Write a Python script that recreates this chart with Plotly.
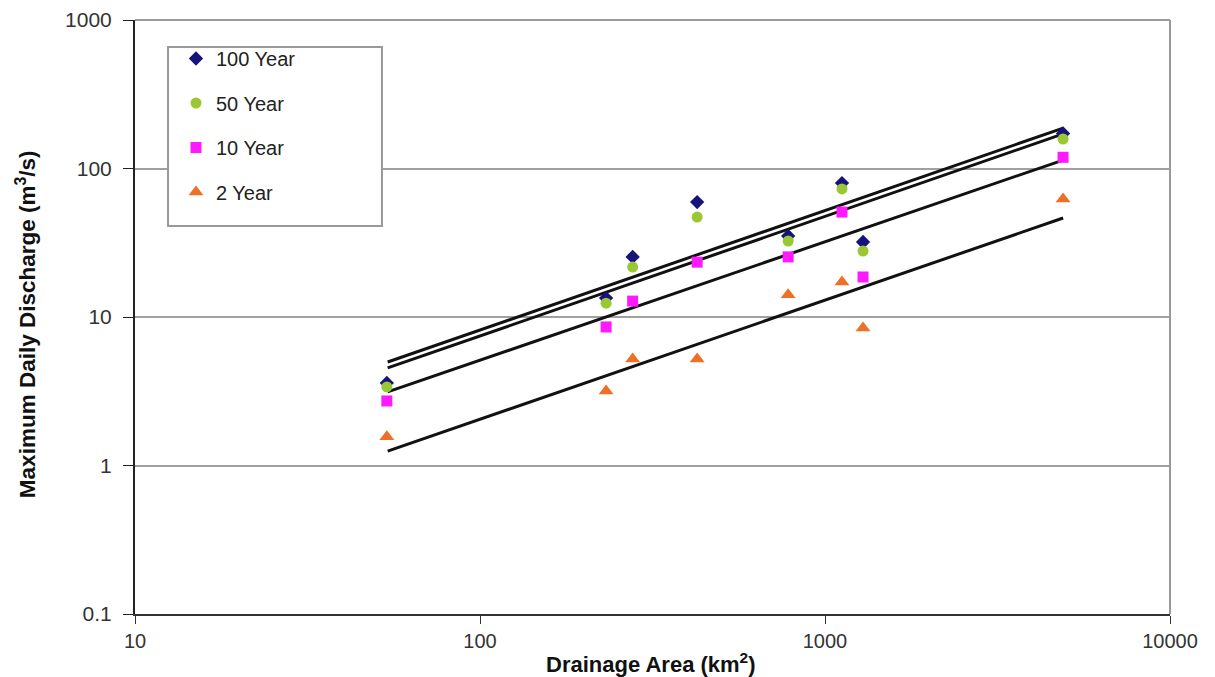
import plotly.graph_objects as go

# Drainage area of each gauged basin (km^2)
area = [53.7, 232, 277, 426, 782, 1120, 1289, 4898]

# Maximum daily discharge (m^3/s) for each return period
q100 = [3.6, 13.4, 25.4, 59.4, 35.1, 79.8, 32.0, 172]
q50 = [3.38, 12.4, 21.7, 47.1, 32.5, 72.8, 27.8, 158]
q10 = [2.72, 8.57, 12.8, 23.4, 25.4, 50.9, 18.6, 119]
q2 = [1.56, 3.18, 5.21, 5.21, 14.1, 17.2, 8.43, 62.4]

# Power-law trend lines, evaluated at the smallest and largest basin
trend_area = [54, 4900]
trend100 = [4.98, 187]
trend50 = [4.54, 171]
trend10 = [3.13, 114]
trend2 = [1.25, 46.4]

x_ticks = [10, 100, 1000, 10000]
y_ticks = [0.1, 1, 10, 100, 1000]

FONT = "Liberation Sans, Arial, sans-serif"

fig = go.Figure()

for ty in (trend100, trend50, trend10, trend2):
    fig.add_trace(go.Scatter(
        x=trend_area, y=ty, mode="lines",
        line=dict(color="#111111", width=3),
        showlegend=False, hoverinfo="skip",
    ))

series = [
    ("100 Year", q100, "diamond", "#14147a", 11),
    ("50 Year", q50, "circle", "#99c833", 11),
    ("10 Year", q10, "square", "#ff19ff", 11),
    ("2 Year", q2, "triangle-up", "#ee7028", 13),
]
for name, ys, sym, col, sz in series:
    fig.add_trace(go.Scatter(
        x=area, y=ys, mode="markers", name=name, legendgroup=name,
        marker=dict(symbol=sym, color=col, size=sz, line=dict(width=0)),
    ))

# Darker reference line at 10 m^3/s
fig.add_shape(type="line", xref="paper", x0=0, x1=1, yref="y", y0=10, y1=10,
              line=dict(color="#3a3a3a", width=2), layer="below")

fig.update_xaxes(
    type="log", range=[1, 4], tickvals=x_ticks, ticktext=[str(v) for v in x_ticks],
    showgrid=False, ticks="outside", ticklen=8, tickcolor="#333",
    showline=True, linecolor="#333", linewidth=2,
    tickfont=dict(family=FONT, size=20, color="#333"),
    automargin=False, zeroline=False,
)
fig.update_yaxes(
    type="log", range=[-1, 3], tickvals=y_ticks, ticktext=["0.1", "1", "10", "100", "1000"],
    showgrid=True, gridcolor="#a0a0a0", gridwidth=2,
    ticks="outside", ticklen=10, tickcolor="#222", ticklabelstandoff=7,
    showline=True, linecolor="#222", linewidth=2,
    tickfont=dict(family=FONT, size=21, color="#333"),
    automargin=False, zeroline=False,
)

# Axis titles
fig.add_annotation(
    text="<b>Drainage Area (km<sup>2</sup>)</b>", xref="paper", yref="paper",
    x=0.4986, y=-0.0825, xanchor="center", yanchor="middle", showarrow=False,
    font=dict(family=FONT, size=22, color="#111"),
)
fig.add_annotation(
    text="<b>Maximum Daily Discharge (m<sup>3</sup>/s)</b>", xref="paper", yref="paper",
    x=-0.1053, y=0.488, xanchor="center", yanchor="middle", textangle=-90,
    showarrow=False, font=dict(family=FONT, size=22.5, color="#111"),
)

# Light frame on the top and right of the plotting area
fig.add_shape(type="line", xref="paper", yref="paper", x0=0, x1=1, y0=1, y1=1,
              line=dict(color="#999", width=2))
fig.add_shape(type="line", xref="paper", yref="paper", x0=1, x1=1, y0=0, y1=1,
              line=dict(color="#999", width=2))

# Legend box
fig.add_shape(type="rect", xref="paper", yref="paper",
              x0=0.0319, x1=0.2386, y0=0.6532, y1=0.9545,
              line=dict(color="#999", width=2), fillcolor="white", layer="above")

fig.update_layout(
    width=1215, height=677,
    margin=dict(l=135, r=45, t=20, b=63),
    paper_bgcolor="white", plot_bgcolor="white",
    font=dict(family=FONT),
    legend=dict(
        x=0.0396, y=0.968, xanchor="left", yanchor="top",
        bgcolor="rgba(0,0,0,0)", borderwidth=0,
        font=dict(family=FONT, size=20, color="#222"),
        tracegroupgap=15.5, itemwidth=30,
    ),
)

fig.write_html("out.html")
